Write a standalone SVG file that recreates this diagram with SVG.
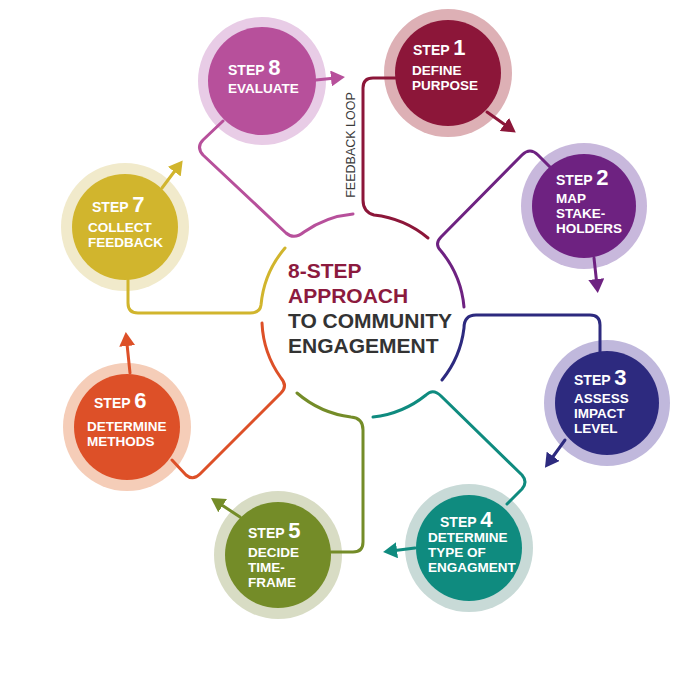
<svg xmlns="http://www.w3.org/2000/svg" width="700" height="700" viewBox="0 0 700 700">
<style>
.ring{stroke:none}
.lbl{font-family:"Liberation Sans",Arial,sans-serif;font-weight:bold;fill:#ffffff;font-size:13.5px}
.st{font-size:14px}
.num{font-size:22px}
.con{fill:none;stroke-width:3;stroke-linecap:round;stroke-linejoin:round}
.title{font-family:"Liberation Sans",Arial,sans-serif;font-weight:bold;font-size:21px}
</style>
<defs>
<marker id="a1" markerUnits="userSpaceOnUse" markerWidth="16" markerHeight="16" refX="2" refY="8" orient="auto"><path d="M0,0 L14,8 L0,16 Z" fill="#8c1639"/></marker>
<marker id="a2" markerUnits="userSpaceOnUse" markerWidth="16" markerHeight="16" refX="2" refY="8" orient="auto"><path d="M0,0 L14,8 L0,16 Z" fill="#6e2281"/></marker>
<marker id="a3" markerUnits="userSpaceOnUse" markerWidth="16" markerHeight="16" refX="2" refY="8" orient="auto"><path d="M0,0 L14,8 L0,16 Z" fill="#2d2a7f"/></marker>
<marker id="a4" markerUnits="userSpaceOnUse" markerWidth="16" markerHeight="16" refX="2" refY="8" orient="auto"><path d="M0,0 L14,8 L0,16 Z" fill="#0f8b7f"/></marker>
<marker id="a5" markerUnits="userSpaceOnUse" markerWidth="16" markerHeight="16" refX="2" refY="8" orient="auto"><path d="M0,0 L14,8 L0,16 Z" fill="#748c28"/></marker>
<marker id="a6" markerUnits="userSpaceOnUse" markerWidth="16" markerHeight="16" refX="2" refY="8" orient="auto"><path d="M0,0 L14,8 L0,16 Z" fill="#dd5028"/></marker>
<marker id="a7" markerUnits="userSpaceOnUse" markerWidth="16" markerHeight="16" refX="2" refY="8" orient="auto"><path d="M0,0 L14,8 L0,16 Z" fill="#d1b52d"/></marker>
<marker id="a8" markerUnits="userSpaceOnUse" markerWidth="16" markerHeight="16" refX="2" refY="8" orient="auto"><path d="M0,0 L14,8 L0,16 Z" fill="#b7509b"/></marker>
</defs>
<rect width="700" height="700" fill="#ffffff"/>

<g id="nodes">
<g id="step1">
<circle cx="448" cy="73" r="64" fill="#ddb0b5"/>
<circle cx="448" cy="73" r="53" fill="#8c1639"/>
<text class="lbl" x="413" y="55"><tspan class="st">STEP </tspan><tspan class="num">1</tspan></text>
<text class="lbl" x="412" y="75">DEFINE</text>
<text class="lbl" x="412" y="90">PURPOSE</text>
</g>
<g id="step2">
<circle cx="584" cy="206" r="63" fill="#c8b8dc"/>
<circle cx="584" cy="206" r="52" fill="#6e2281"/>
<text class="lbl" x="556" y="185"><tspan class="st">STEP </tspan><tspan class="num">2</tspan></text>
<text class="lbl" x="556" y="203">MAP</text>
<text class="lbl" x="556" y="218">STAKE-</text>
<text class="lbl" x="556" y="233">HOLDERS</text>
</g>
<g id="step3">
<circle cx="607" cy="403" r="63" fill="#c0b8dc"/>
<circle cx="607" cy="403" r="52" fill="#2d2a7f"/>
<text class="lbl" x="574" y="385"><tspan class="st">STEP </tspan><tspan class="num">3</tspan></text>
<text class="lbl" x="574" y="403">ASSESS</text>
<text class="lbl" x="574" y="418">IMPACT</text>
<text class="lbl" x="574" y="433">LEVEL</text>
</g>
<g id="step4">
<circle cx="469" cy="548" r="64" fill="#c8dad7"/>
<circle cx="469" cy="548" r="53" fill="#0f8b7f"/>
<text class="lbl" x="440" y="527"><tspan class="st">STEP </tspan><tspan class="num">4</tspan></text>
<text class="lbl" x="428" y="542">DETERMINE</text>
<text class="lbl" x="428" y="557">TYPE OF</text>
<text class="lbl" x="428" y="572">ENGAGMENT</text>
</g>
<g id="step5">
<circle cx="278" cy="555" r="64" fill="#d8dcc4"/>
<circle cx="278" cy="555" r="53" fill="#748c28"/>
<text class="lbl" x="248" y="538"><tspan class="st">STEP </tspan><tspan class="num">5</tspan></text>
<text class="lbl" x="248" y="557">DECIDE</text>
<text class="lbl" x="248" y="572">TIME-</text>
<text class="lbl" x="248" y="587">FRAME</text>
</g>
<g id="step6">
<circle cx="127" cy="427" r="64" fill="#f5cdb8"/>
<circle cx="127" cy="427" r="53" fill="#dd5028"/>
<text class="lbl" x="94" y="408"><tspan class="st">STEP </tspan><tspan class="num">6</tspan></text>
<text class="lbl" x="87" y="431">DETERMINE</text>
<text class="lbl" x="87" y="446">METHODS</text>
</g>
<g id="step7">
<circle cx="125" cy="227" r="64" fill="#f1eacb"/>
<circle cx="125" cy="227" r="53" fill="#d1b52d"/>
<text class="lbl" x="92" y="212"><tspan class="st">STEP </tspan><tspan class="num">7</tspan></text>
<text class="lbl" x="88" y="232">COLLECT</text>
<text class="lbl" x="88" y="247">FEEDBACK</text>
</g>
<g id="step8">
<circle cx="262" cy="81" r="64" fill="#e8cce6"/>
<circle cx="262" cy="81" r="54" fill="#b7509b"/>
<text class="lbl" x="228" y="75"><tspan class="st">STEP </tspan><tspan class="num">8</tspan></text>
<text class="lbl" x="228" y="93">EVALUATE</text>
</g>
</g>

<g id="connectors">
<path class="con" stroke="#8c1639" d="M428,238 A102,102 0 0 0 374,215 Q363,212 363,200 L363,88 Q363,78 373,78 L395,78"/>
<path class="con" stroke="#b7509b" d="M353,214 A102,102 0 0 0 304,232 Q294,240 286,233 L203,155 Q196,147 203,140 L223,121"/>
<path class="con" stroke="#6e2281" d="M464,307 A102,102 0 0 0 441,251 Q434,244 441,237 L522,155 Q530,147 538,155 L552,169"/>
<path class="con" stroke="#2d2a7f" d="M442,380 A102,102 0 0 0 464,328 Q464,315 476,315 L590,315 Q600,315 600,325 L600,352"/>
<path class="con" stroke="#0f8b7f" d="M373,417 A102,102 0 0 0 426,395 Q433,388 441,396 L522,475 Q528,482 522,489 L507,504"/>
<path class="con" stroke="#748c28" d="M297,393 A102,102 0 0 0 351,417 Q363,418 363,430 L363,542 Q363,552 353,552 L331,552"/>
<path class="con" stroke="#dd5028" d="M262,323 A102,102 0 0 0 281,378 Q288,386 281,393 L200,474 Q193,481 186,475 L172,460"/>
<path class="con" stroke="#d1b52d" d="M285,248 A102,102 0 0 0 261,305 Q260,313 250,313 L138,313 Q128,313 128,303 L128,280"/>

<path class="con" stroke="#8c1639" d="M487,112 L506,125.5" marker-end="url(#a1)"/>
<path class="con" stroke="#6e2281" d="M594,258 L596.5,281" marker-end="url(#a2)"/>
<path class="con" stroke="#2d2a7f" d="M565,440 L552,458" marker-end="url(#a3)"/>
<path class="con" stroke="#0f8b7f" d="M415,548 L395,550.5" marker-end="url(#a4)"/>
<path class="con" stroke="#748c28" d="M240,517 L221,504.5" marker-end="url(#a5)"/>
<path class="con" stroke="#dd5028" d="M130,373 L127,344" marker-end="url(#a6)"/>
<path class="con" stroke="#d1b52d" d="M162,188 L175.5,170" marker-end="url(#a7)"/>
<path class="con" stroke="#b7509b" d="M316,80 L333,78.3" marker-end="url(#a8)"/>
</g>

<text font-family="&quot;Liberation Sans&quot;, Arial, sans-serif" font-size="12.5" fill="#3a3a3a" text-anchor="middle" transform="translate(355,145) rotate(-90)">FEEDBACK LOOP</text>

<g id="title">
<text class="title" x="288" y="278" fill="#8c1a3e">8-STEP</text>
<text class="title" x="288" y="303" fill="#8c1a3e">APPROACH</text>
<text class="title" x="288" y="328" fill="#333333">TO COMMUNITY</text>
<text class="title" x="288" y="353" fill="#333333">ENGAGEMENT</text>
</g>
</svg>
